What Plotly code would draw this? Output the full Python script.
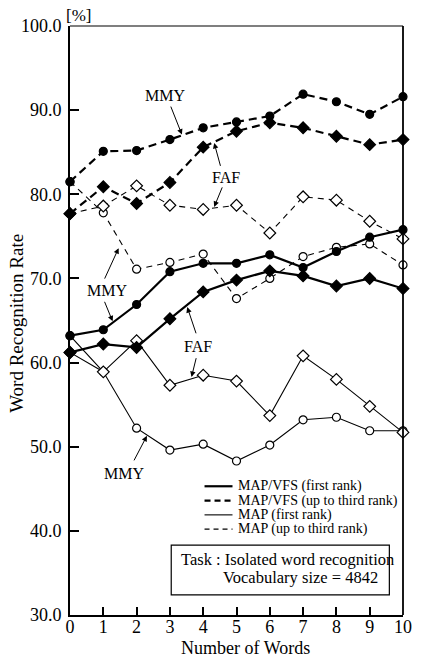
import plotly.graph_objects as go

# ---------------- data ----------------
num_words = [0, 1, 2, 3, 4, 5, 6, 7, 8, 9, 10]

mmy_vfs_top3 = [81.5, 85.1, 85.2, 86.5, 87.9, 88.6, 89.3, 91.9, 91.0, 89.5, 91.6]
faf_vfs_top3 = [77.7, 80.9, 78.9, 81.4, 85.6, 87.5, 88.5, 87.9, 86.9, 85.9, 86.5]
faf_map_top3 = [77.7, 78.6, 81.0, 78.7, 78.2, 78.7, 75.4, 79.7, 79.3, 76.8, 74.7]
mmy_map_top3 = [81.5, 77.8, 71.1, 71.9, 72.9, 67.6, 70.0, 72.6, 73.7, 74.1, 71.6]
mmy_vfs_first = [63.2, 63.9, 66.9, 70.8, 71.8, 71.8, 72.8, 71.3, 73.2, 74.9, 75.8]
faf_vfs_first = [61.2, 62.2, 61.8, 65.2, 68.4, 69.8, 70.9, 70.3, 69.1, 70.0, 68.8]
faf_map_first = [61.2, 58.9, 62.6, 57.3, 58.5, 57.8, 53.7, 60.8, 58.0, 54.8, 51.7]
mmy_map_first = [63.2, 58.9, 52.2, 49.6, 50.3, 48.3, 50.2, 53.2, 53.5, 51.9, 51.9]

y_ticks = [30, 40, 50, 60, 70, 80, 90, 100]
x_ticks = num_words

legend_labels = ["MAP/VFS (first rank)", "MAP/VFS (up to third rank)",
                 "MAP (first rank)", "MAP (up to third rank)"]

FONT = "Liberation Serif"
THICK = 2.2
THIN = 1.1
DASH_THICK = "8px,5px"
DASH_THIN = "6px,5px"

fig = go.Figure()


def add(y, width, dash, symbol, filled):
    fig.add_trace(go.Scatter(
        x=num_words, y=y, mode="lines+markers", showlegend=False,
        line=dict(color="black", width=width, dash=dash),
        marker=dict(symbol=symbol, size=9 if symbol == "diamond" else 8,
                    color="black" if filled else "white",
                    line=dict(color="black", width=1.2)),
        cliponaxis=False,
    ))


# thin (MAP) first, thick (MAP/VFS) on top
add(mmy_map_first, THIN, "solid", "circle", False)
add(faf_map_first, THIN, "solid", "diamond", False)
add(mmy_map_top3, THIN, DASH_THIN, "circle", False)
add(faf_map_top3, THIN, DASH_THIN, "diamond", False)
add(faf_vfs_first, THICK, "solid", "diamond", True)
add(mmy_vfs_first, THICK, "solid", "circle", True)
add(faf_vfs_top3, THICK, DASH_THICK, "diamond", True)
add(mmy_vfs_top3, THICK, DASH_THICK, "circle", True)

shapes = []
annotations = []

# frame top / right
shapes.append(dict(type="line", xref="paper", yref="paper", x0=0, x1=1, y0=1, y1=1,
                   line=dict(color="black", width=1.2)))
shapes.append(dict(type="line", xref="paper", yref="paper", x0=1, x1=1, y0=0, y1=1,
                   line=dict(color="black", width=1.8)))

# legend (manual)
leg_rows_y = [45.3, 43.6, 41.9, 40.2]
leg_styles = [(THICK, "solid"), (THICK, "6px,4px"), (THIN, "solid"), (THIN, "5px,4px")]
for lab, yy, (w, d) in zip(legend_labels, leg_rows_y, leg_styles):
    shapes.append(dict(type="line", xref="x", yref="y", x0=4.04, x1=4.88, y0=yy, y1=yy,
                       line=dict(color="black", width=w, dash=d)))
    annotations.append(dict(x=4.97, y=yy, xref="x", yref="y", text=lab, showarrow=False,
                            xanchor="left", yanchor="middle",
                            font=dict(family=FONT, size=14, color="black")))

# task box
shapes.append(dict(type="rect", xref="x", yref="y", x0=3.04, x1=9.59, y0=32.4, y1=38.3,
                   line=dict(color="black", width=1.2), fillcolor="white"))
annotations.append(dict(x=3.27, y=36.55, xref="x", yref="y",
                        text="Task : Isolated word recognition", showarrow=False,
                        xanchor="left", yanchor="middle",
                        font=dict(family=FONT, size=16.5, color="black")))
annotations.append(dict(x=9.30, y=34.4, xref="x", yref="y",
                        text="Vocabulary size = 4842", showarrow=False,
                        xanchor="right", yanchor="middle",
                        font=dict(family=FONT, size=16.5, color="black")))

# series labels
labels = [("MMY", 2.84, 91.7), ("FAF", 4.68, 82.05), ("MMY", 1.11, 68.6),
          ("FAF", 3.85, 61.97), ("MMY", 1.61, 46.76)]
for t, xx, yy in labels:
    annotations.append(dict(x=xx, y=yy, xref="x", yref="y", text=t, showarrow=False,
                            xanchor="center", yanchor="middle",
                            font=dict(family=FONT, size=16, color="black")))

# arrows: (tail_x, tail_y, tip_x, tip_y)
arrows = [(3.01, 90.6, 3.36, 87.1),
          (4.53, 83.2, 4.33, 86.1), (4.59, 81.0, 4.33, 78.5),
          (1.02, 69.8, 1.46, 73.6), (1.02, 67.4, 1.28, 64.9),
          (3.80, 63.3, 3.52, 66.6), (3.80, 60.7, 3.65, 58.3),
          (1.90, 48.2, 2.31, 51.3)]
for tx, ty, hx, hy in arrows:
    annotations.append(dict(x=hx, y=hy, ax=tx, ay=ty, xref="x", yref="y",
                            axref="x", ayref="y", text="", showarrow=True,
                            arrowhead=2, arrowsize=1.1, arrowwidth=1, arrowcolor="black"))

# [%], axis titles (paper coordinates)
annotations.append(dict(x=0.026, y=1.017, xref="paper", yref="paper", text="[%]",
                        showarrow=False, xanchor="center", yanchor="middle",
                        font=dict(family=FONT, size=17, color="black")))
annotations.append(dict(x=0.526, y=-0.056, xref="paper", yref="paper",
                        text="Number of Words", showarrow=False,
                        xanchor="center", yanchor="middle",
                        font=dict(family=FONT, size=18, color="black")))
annotations.append(dict(x=-0.161, y=0.495, xref="paper", yref="paper",
                        text="Word Recognition Rate", showarrow=False, textangle=-90,
                        xanchor="center", yanchor="middle",
                        font=dict(family=FONT, size=19, color="black")))

fig.update_layout(
    width=423, height=659,
    margin=dict(l=70, r=11, t=26, b=44),
    paper_bgcolor="white", plot_bgcolor="white",
    showlegend=False,
    shapes=shapes, annotations=annotations,
    font=dict(family=FONT, size=16, color="black"),
)
fig.update_xaxes(range=[0, 10], tickvals=x_ticks, ticktext=[str(v) for v in x_ticks],
                 ticks="inside", ticklen=8, tickwidth=1.5, tickcolor="black",
                 showline=True, linewidth=2, linecolor="black", showgrid=False,
                 zeroline=False, ticklabelstandoff=-6,
                 tickfont=dict(family=FONT, size=18, color="black"))
fig.update_yaxes(range=[30, 100], tickvals=y_ticks, ticktext=[f"{v:.1f}" for v in y_ticks],
                 ticks="inside", ticklen=9, tickwidth=1.5, tickcolor="black",
                 showline=True, linewidth=2, linecolor="black", showgrid=False,
                 zeroline=False, ticklabelstandoff=3,
                 tickfont=dict(family=FONT, size=18, color="black"))

fig.write_html("out.html")
